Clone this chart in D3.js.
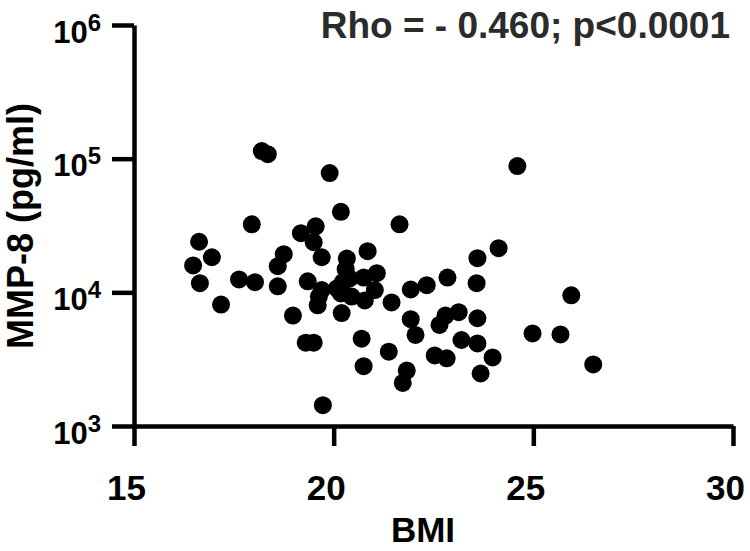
<!DOCTYPE html>
<html lang="en">
  <head>
    <meta charset="UTF-8" />
    <title>MMP-8 vs BMI</title>
    <script src="https://d3js.org/d3.v7.min.js"></script>
    <style>
      body {
        margin: 0;
        padding: 0;
        background-color: #ffffff;
      }
      svg text {
        font-family: Arial, "Liberation Sans", sans-serif;
        font-weight: bold;
      }
    </style>
  </head>
  <body>
    <div id="chart"></div>

    <script>
      // -----------------------------
      // Data
      // -----------------------------
      const bmi = [
        18.2, 18.35, 19.9, 24.6, 20.18, 17.95, 21.65, 19.55, 19.18, 19.5,
        16.63, 16.95, 16.48, 19.7, 20.85, 24.13, 23.6, 18.75, 18.6, 18.6,
        20.33, 20.3, 20.4, 20.75, 21.08, 21.03, 19.35, 19.7, 20.08, 21.45,
        20.45, 16.65, 17.18, 17.63, 18.03, 18.98, 19.63, 19.6, 20.18, 20.2,
        20.78, 19.3, 19.5, 20.7, 21.38, 20.75, 21.73, 19.73, 22.85, 23.58,
        22.33, 21.93, 21.93, 22.05, 22.65, 22.8, 23.13, 23.6, 23.2, 23.6,
        23.98, 22.53, 22.83, 21.83, 23.68, 25.95, 24.98, 25.68, 26.5, 20.23
      ];
      const mmp8 = [
        114000, 108000, 78000, 88000, 40000, 32300, 32300, 31200, 27700, 23700,
        23900, 18300, 15900, 18300, 20300, 21400, 18000, 19300, 15700, 11100,
        17900, 14900, 12700, 12900, 13900, 10400, 12100, 10400, 10700, 8400,
        9300, 11700, 8100, 12500, 11900, 6700, 9300, 8000, 9800, 7000,
        8700, 4200, 4200, 4500, 3600, 2800, 2100, 1430, 12900, 11700,
        11300, 10500, 6300, 4800, 5700, 6700, 7100, 6400, 4400, 4150,
        3260, 3370, 3210, 2600, 2470, 9500, 4930, 4840, 2890, 11900
      ];
      const xTicks = [15, 20, 25, 30];
      const yTicks = [1e3, 1e4, 1e5, 1e6];
      const statLabel = "Rho = - 0.460; p<0.0001";

      // -----------------------------
      // Setup
      // -----------------------------
      const width = 750;
      const height = 551;

      const svg = d3
        .select("#chart")
        .append("svg")
        .attr("width", width)
        .attr("height", height);

      const x = d3.scaleLinear().domain([15, 30]).range([134, 733]);
      const y = d3.scaleLog().domain([1e3, 1e6]).range([426, 25]);

      // X axis
      const xAxis = svg
        .append("g")
        .attr("transform", "translate(0,426)")
        .call(
          d3.axisBottom(x).tickValues(xTicks).tickSize(20).tickSizeOuter(0).tickPadding(0)
        );
      xAxis.selectAll("path, line").attr("stroke", "#000").attr("stroke-width", 4.5);
      // labels sit a little left of their ticks in the original
      xAxis
        .selectAll(".tick text")
        .attr("x", -8)
        .attr("y", 74)
        .attr("dy", null)
        .attr("fill", "#000")
        .style("font-size", "35px");

      // Y axis (log, labels as 10^n)
      const yAxis = svg
        .append("g")
        .attr("transform", "translate(134,0)")
        .call(
          d3.axisLeft(y).tickValues(yTicks).tickSize(22).tickSizeOuter(0).tickFormat(() => "")
        );
      yAxis.selectAll("path, line").attr("stroke", "#000").attr("stroke-width", 4.5);
      yAxis.selectAll(".tick text").remove();

      const yLabel = yAxis
        .selectAll(".tick")
        .append("text")
        .attr("x", -33)
        .attr("y", 17)
        .attr("text-anchor", "end")
        .attr("fill", "#000");
      yLabel.append("tspan").style("font-size", "31px").text("10");
      yLabel
        .append("tspan")
        .attr("dy", -12)
        .style("font-size", "24px")
        .text((d) => Math.round(Math.log10(d)));

      // Axis titles
      svg
        .append("text")
        .attr("x", 423)
        .attr("y", 542)
        .attr("text-anchor", "middle")
        .style("font-size", "35px")
        .attr("fill", "#000")
        .text("BMI");

      svg
        .append("text")
        .attr("transform", "translate(33,226) rotate(-90)")
        .attr("text-anchor", "middle")
        .style("font-size", "36px")
        .attr("fill", "#000")
        .text("MMP-8 (pg/ml)");

      // Stat annotation
      svg
        .append("text")
        .attr("x", 730)
        .attr("y", 38)
        .attr("text-anchor", "end")
        .style("font-size", "37px")
        .attr("fill", "#2b2b2b")
        .text(statLabel);

      // Points
      const points = bmi.map((b, i) => ({ bmi: b, mmp: mmp8[i] }));
      svg
        .append("g")
        .selectAll("circle")
        .data(points)
        .enter()
        .append("circle")
        .attr("cx", (d) => x(d.bmi))
        .attr("cy", (d) => y(d.mmp))
        .attr("r", 9)
        .attr("fill", "#000");
    </script>
  </body>
</html>
